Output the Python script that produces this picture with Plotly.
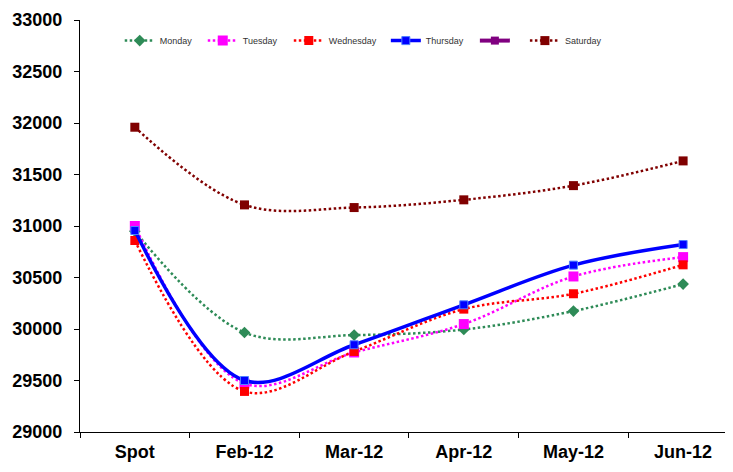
import plotly.graph_objects as go

categories = ["Spot", "Feb-12", "Mar-12", "Apr-12", "May-12", "Jun-12"]
monday = [30950, 29966, 29941, 29995, 30174, 30436]
tuesday = [31000, 29470, 29772, 30048, 30510, 30698]
wednesday = [30859, 29394, 29782, 30193, 30342, 30623]
thursday = [30956, 29500, 29847, 30235, 30620, 30820]
friday = [None, None, None, None, None, None]
saturday = [31959, 31205, 31179, 31254, 31392, 31632]
y_ticks = [29000, 29500, 30000, 30500, 31000, 31500, 32000, 32500, 33000]

FONT = "Liberation Sans, Arial, sans-serif"
DOT = "2.5px,2.5px"

# page offset of the figure (default body margin) is compensated below
PAGE_OFF = 8
PLOT_L = 72.3
PLOT_W = 652.7

fig = go.Figure()

fig.add_trace(go.Scatter(
    x=categories, y=monday, name="Monday", mode="lines+markers", legend="legend",
    line=dict(color="#2E8B57", width=2.5, dash=DOT, shape="spline", smoothing=1),
    marker=dict(symbol="diamond", size=9, color="#2E8B57")))
fig.add_trace(go.Scatter(
    x=categories, y=tuesday, name="Tuesday", mode="lines+markers", legend="legend2",
    line=dict(color="#FF00FF", width=2.5, dash=DOT, shape="spline", smoothing=1),
    marker=dict(symbol="square", size=10, color="#FF00FF")))
fig.add_trace(go.Scatter(
    x=categories, y=wednesday, name="Wednesday", mode="lines+markers", legend="legend3",
    line=dict(color="#FF0000", width=2.5, dash=DOT, shape="spline", smoothing=1),
    marker=dict(symbol="square", size=9, color="#FF0000")))
fig.add_trace(go.Scatter(
    x=categories, y=thursday, name="Thursday", mode="lines+markers", legend="legend4",
    line=dict(color="#0000FF", width=3.5, shape="spline", smoothing=1),
    marker=dict(symbol="square", size=8, color="#0000FF",
                line=dict(color="#4F81FF", width=1))))
fig.add_trace(go.Scatter(
    x=categories, y=friday, name="", mode="lines+markers", legend="legend5",
    line=dict(color="#800080", width=4),
    marker=dict(symbol="square", size=8, color="#800080")))
fig.add_trace(go.Scatter(
    x=categories, y=saturday, name="Saturday", mode="lines+markers", legend="legend6",
    line=dict(color="#800000", width=2.5, dash=DOT, shape="spline", smoothing=1),
    marker=dict(symbol="square", size=9, color="#800000")))

# legend entry symbol start positions (page px)
legend_starts = [124, 207, 293, 390, 479, 529]


def leg(px):
    return dict(orientation="h", x=(px - 4 - PAGE_OFF - PLOT_L) / PLOT_W, xanchor="left",
                y=0.95, yanchor="middle", bgcolor="rgba(0,0,0,0)",
                font=dict(size=9, family=FONT, color="#333333"))


fig.update_layout(
    width=733 - PAGE_OFF, height=472 - PAGE_OFF,
    margin=dict(l=PLOT_L, r=0, t=12, b=39.7, autoexpand=False),
    paper_bgcolor="white", plot_bgcolor="white",
    font=dict(family=FONT, color="black"),
    showlegend=True,
    legend=leg(legend_starts[0]),
    legend2=leg(legend_starts[1]),
    legend3=leg(legend_starts[2]),
    legend4=leg(legend_starts[3]),
    legend5=leg(legend_starts[4]),
    legend6=leg(legend_starts[5]),
    xaxis=dict(
        type="category", range=[-0.5, 5.455],
        showline=True, linecolor="black", linewidth=1,
        ticks="outside", ticklen=5, tickcolor="black", tickson="boundaries",
        showgrid=False, zeroline=False, ticklabelstandoff=3,
        tickfont=dict(size=18, family=FONT, color="black", weight="bold")),
    yaxis=dict(
        range=[29000, 33000], tickvals=y_ticks, ticktext=[str(v) for v in y_ticks],
        showline=True, linecolor="black", linewidth=1,
        ticks="outside", ticklen=5, tickcolor="black",
        showgrid=False, zeroline=False, ticklabelstandoff=8,
        tickfont=dict(size=18, family=FONT, color="black", weight="bold")),
)

fig.write_html("out.html")
